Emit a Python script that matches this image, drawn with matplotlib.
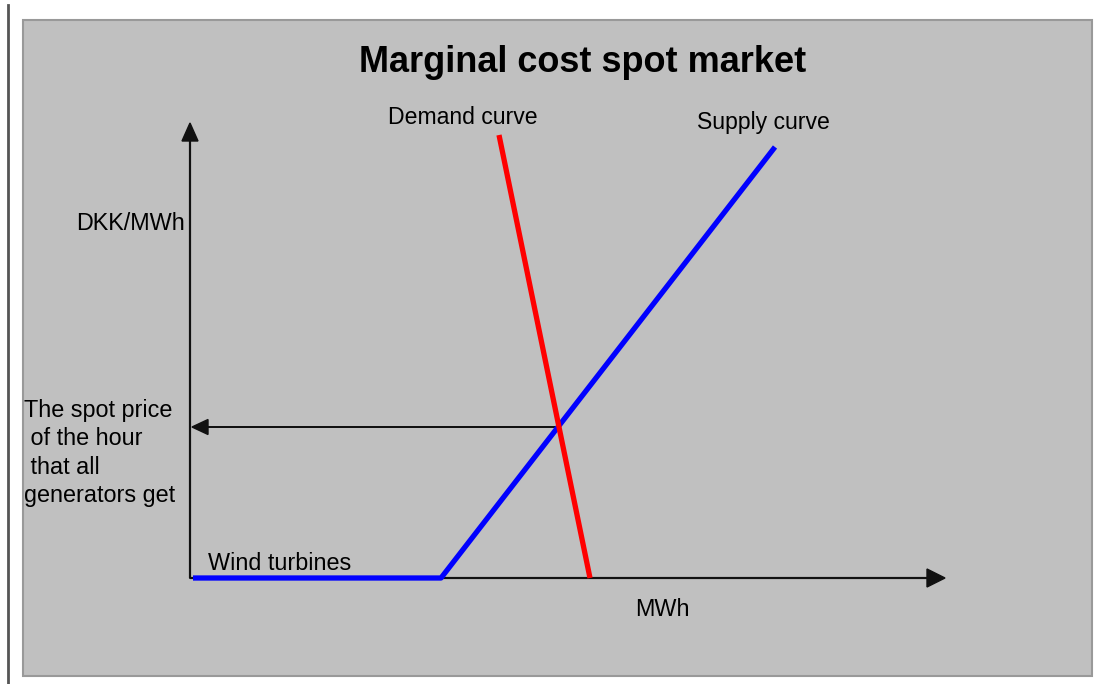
import matplotlib
matplotlib.use('Agg')
import matplotlib.pyplot as plt
from matplotlib.patches import Rectangle

plt.rcParams['font.family'] = ['Liberation Sans', 'DejaVu Sans']

# data in the chart's own units (origin where the two axes meet)
supply_x = [3, 251, 585]
supply_y = [0, 0, 431]
demand_x = [309, 400]
demand_y = [443, 0]
spot_price = 151
spot_qty = 367
x_axis_end = 755
y_axis_end = 455

title = 'Marginal cost spot market'
spot_label = 'The spot price\n of the hour\n that all\ngenerators get'

fig = plt.figure(figsize=(10.96, 6.84), dpi=100)
fig.patch.set_facecolor('white')
ax = fig.add_axes([0, 0, 1, 1])
ax.set_xlim(-190, 906)
ax.set_ylim(-106, 578)
ax.axis('off')

# grey slide background and the rule on the far left
ax.add_patch(Rectangle((23 / 1096, 8 / 684), 1069 / 1096, 656 / 684,
                       transform=fig.transFigure, facecolor='#c0c0c0',
                       edgecolor='#999999', linewidth=1.5, zorder=0))
ax.plot([8 / 1096, 8 / 1096], [0, 679 / 684], transform=fig.transFigure,
        color='#555555', linewidth=2, zorder=0, clip_on=False)

# axes with arrow heads
ax.arrow(0, 0, 0, y_axis_end, width=0.8, head_width=16, head_length=18,
         length_includes_head=True, color='#111111', zorder=2)
ax.arrow(0, 0, x_axis_end, 0, width=0.8, head_width=18, head_length=18,
         length_includes_head=True, color='#111111', zorder=2)

# spot price arrow back to the price axis
ax.arrow(spot_qty, spot_price, -spot_qty + 2, 0, width=0.6, head_width=15,
         head_length=16, length_includes_head=True, color='#111111', zorder=2)

ax.plot(supply_x, supply_y, color='#0000ff', linewidth=3.8, zorder=3,
        solid_capstyle='butt')
ax.plot(demand_x, demand_y, color='#ff0000', linewidth=3.8, zorder=4,
        solid_capstyle='butt')

ax.text(393, 516, title, ha='center', va='center', fontsize=26,
        fontweight='bold', color='black')
ax.text(273, 461, 'Demand curve', ha='center', va='center', fontsize=16.6)
ax.text(573, 456, 'Supply curve', ha='center', va='center', fontsize=16.6)
ax.text(-5, 355, 'DKK/MWh', ha='right', va='center', fontsize=16.8)
ax.text(-166, 125, spot_label, ha='left', va='center', fontsize=16.8,
        linespacing=1.3)
ax.text(18, 14, 'Wind turbines', ha='left', va='center', fontsize=16.8)
ax.text(472, -31, 'MWh', ha='center', va='center', fontsize=16.8)

fig.savefig('out.png', dpi=100, facecolor=fig.get_facecolor())
